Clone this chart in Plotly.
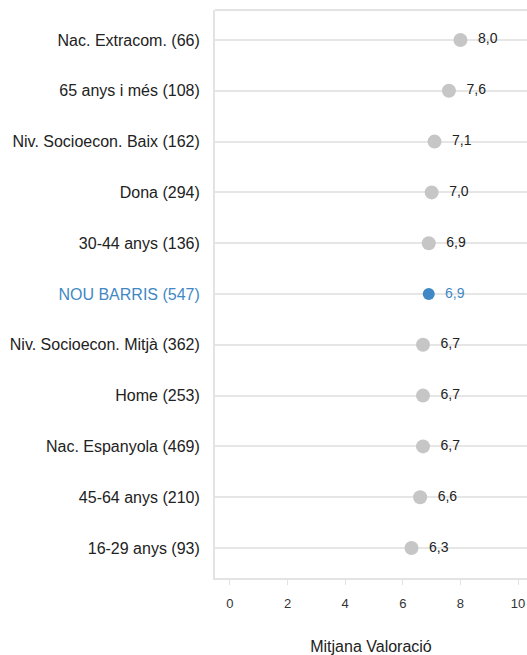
import plotly.graph_objects as go

categories = ["Nac. Extracom. (66)", "65 anys i més (108)", "Niv. Socioecon. Baix (162)",
              "Dona (294)", "30-44 anys (136)", "NOU BARRIS (547)",
              "Niv. Socioecon. Mitjà (362)", "Home (253)", "Nac. Espanyola (469)",
              "45-64 anys (210)", "16-29 anys (93)"]
values = [8.0, 7.6, 7.1, 7.0, 6.9, 6.9, 6.7, 6.7, 6.7, 6.6, 6.3]
highlight = "NOU BARRIS (547)"
x_ticks = [0, 2, 4, 6, 8, 10]

GRAY = "#C6C6C6"
BLUE = "#3F88C5"
TXT = "#222222"
FONT = "Liberation Sans, Arial, Helvetica, sans-serif"

colors = [BLUE if c == highlight else GRAY for c in categories]
sizes = [12 if c == highlight else 14 for c in categories]
text = [f"{v:.1f}".replace(".", ",") for v in values]
text_colors = [BLUE if c == highlight else TXT for c in categories]

fig = go.Figure()
fig.add_trace(go.Scatter(
    x=values, y=categories, mode="markers+text",
    marker=dict(color=colors, size=sizes, opacity=1, line=dict(width=0)),
    text=["  " + t for t in text], textposition="middle right",
    textfont=dict(family=FONT, size=14, color=text_colors),
    hoverinfo="skip", cliponaxis=False,
))

ticktext = [f'<span style="color:{BLUE}">{c}</span>' if c == highlight else c for c in categories]

fig.update_layout(
    width=527, height=655,
    margin=dict(l=215, r=0, t=10, b=73),
    paper_bgcolor="white", plot_bgcolor="white",
    showlegend=False,
    font=dict(family=FONT, color=TXT),
    xaxis=dict(
        range=[-0.52, 10.31], tickvals=x_ticks, ticktext=[str(t) for t in x_ticks],
        showgrid=False, zeroline=False,
        showline=True, linecolor="#E3E3E3", linewidth=2,
        ticks="outside", ticklen=5, tickcolor="#E3E3E3", tickwidth=1,
        tickfont=dict(size=13, color="#333333"), ticklabelstandoff=7,
        title=dict(text="Mitjana Valoració", font=dict(size=16, color=TXT), standoff=33),
    ),
    yaxis=dict(
        categoryorder="array", categoryarray=categories,
        tickvals=categories, ticktext=ticktext,
        range=[10.59, -0.59],
        showgrid=True, gridcolor="#E6E6E6", gridwidth=2,
        zeroline=False,
        showline=True, linecolor="#E3E3E3", linewidth=2,
        ticks="", tickfont=dict(size=16, color=TXT), ticklabelstandoff=10,
    ),
    shapes=[dict(type="line", xref="paper", yref="paper", x0=0, x1=1, y0=1, y1=1,
                 line=dict(color="#E3E3E3", width=2))],
)

fig.write_html(
    "out.html",
    config={"displayModeBar": False},
    post_script="document.body.style.margin='0';document.body.style.overflow='hidden';",
)
